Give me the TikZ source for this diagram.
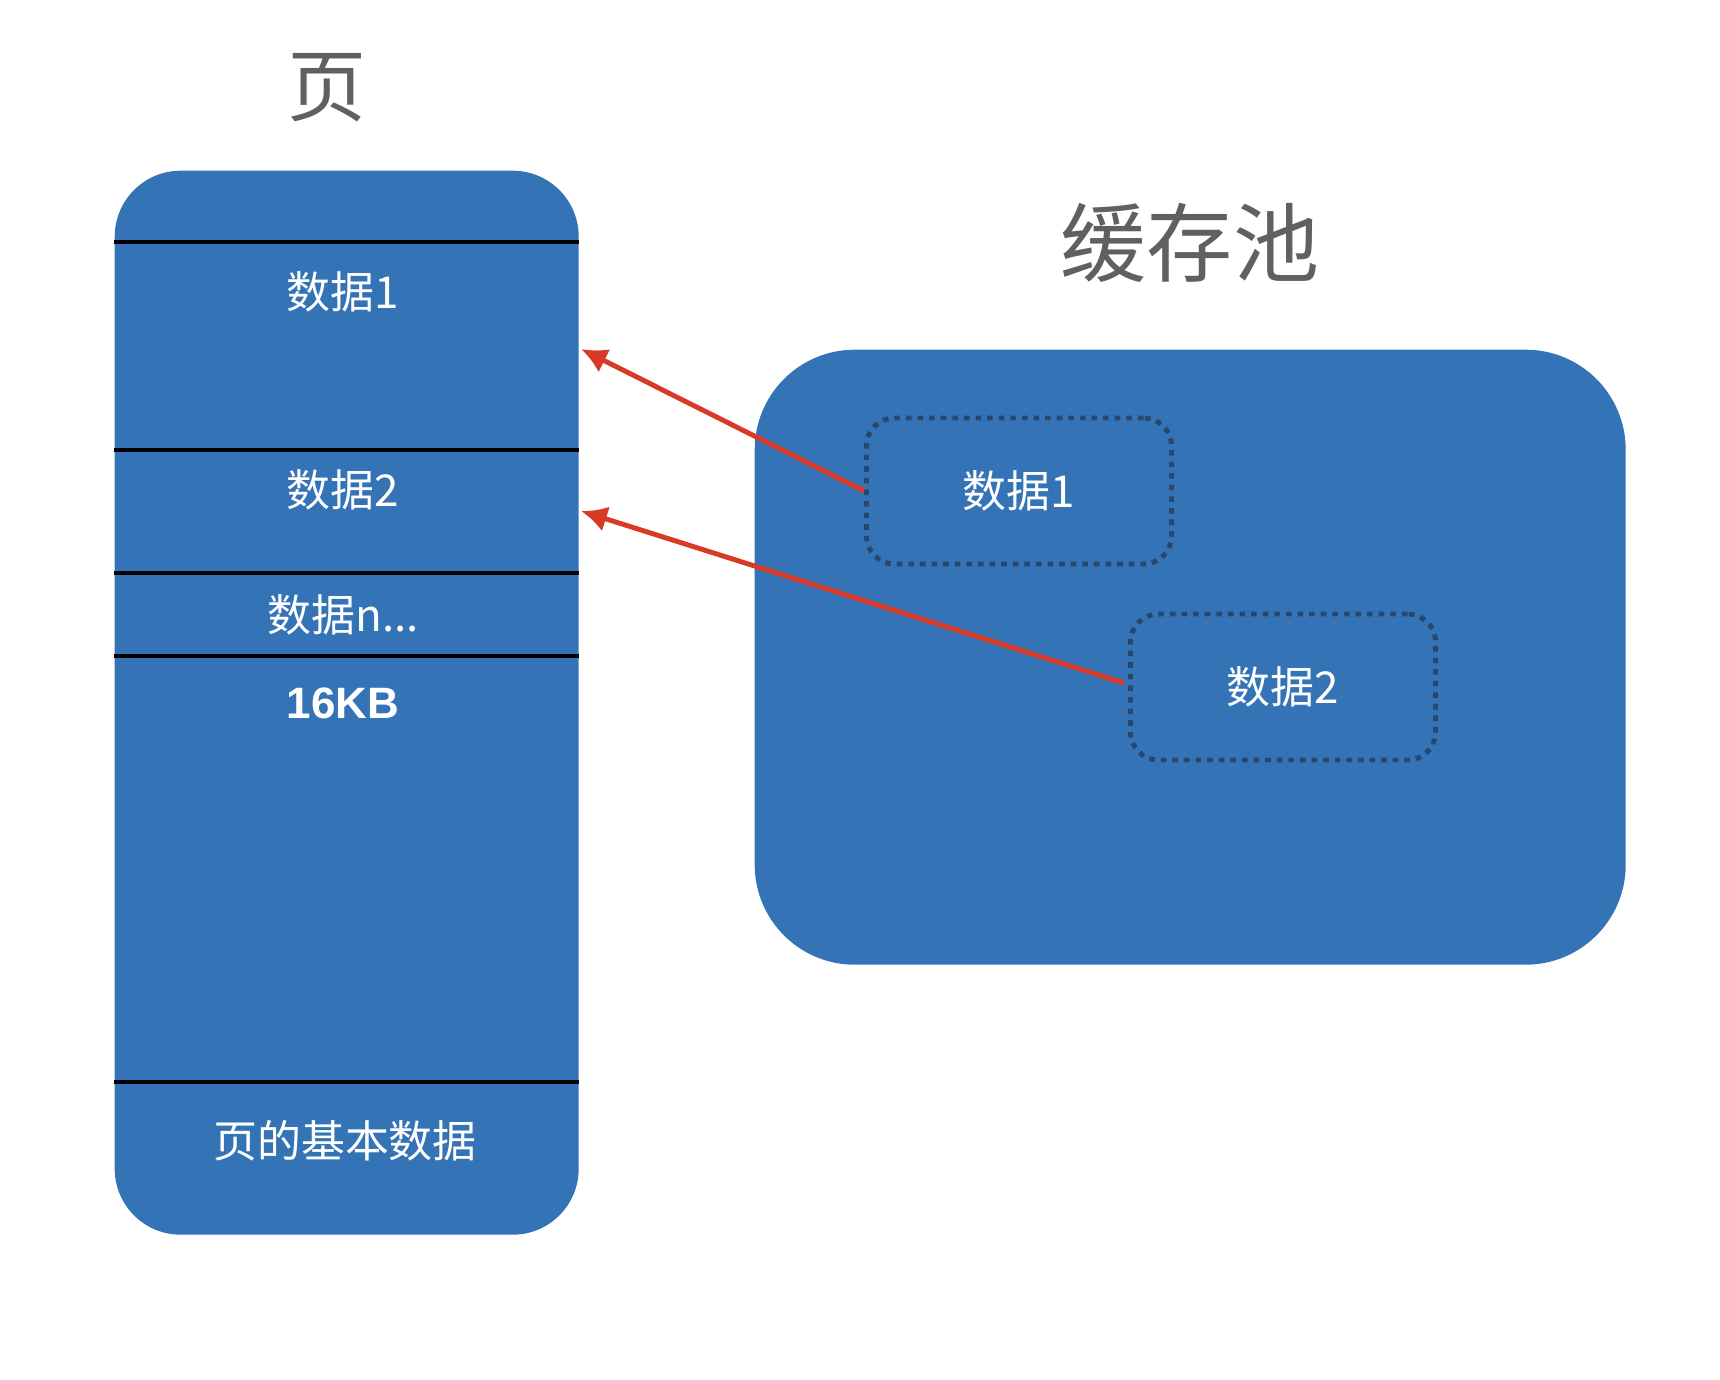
\documentclass[tikz,border=0pt]{standalone}
\usepackage{fontspec}
\setmainfont{Noto Sans CJK SC}
\newfontfamily\headfont{Liberation Sans}
\usetikzlibrary{positioning}
\usetikzlibrary{arrows.meta}
\definecolor{boxblue}{HTML}{3474B6}
\definecolor{arrowred}{HTML}{D93A26}
\definecolor{dotnavy}{HTML}{264870}
\definecolor{titlegray}{HTML}{606060}
\tikzset{>={Latex[length=2.6mm,width=2.6mm]}}
\tikzstyle{block}=[fill=boxblue,draw=none,inner sep=0pt]
\tikzstyle{sep}=[line width=0.9pt,black]
\tikzstyle{field}=[text=white,font=\fontsize{12.5}{15}\selectfont]
\tikzstyle{title}=[text=titlegray]
\tikzstyle{slot}=[draw=dotnavy,line width=1.4pt,dash pattern=on 1.6pt off 1.7pt,rounded corners=0.28cm,minimum width=3.05cm,minimum height=1.46cm,text=white,font=\fontsize{12.5}{15}\selectfont]
\tikzstyle{load}=[->,arrowred,line width=1.4pt]

\begin{document}
\begin{tikzpicture}

  \useasboundingbox (0,0) rectangle (17.2,-13.8);

  % page
  \node[block,rounded corners=0.66cm,minimum width=4.64cm,minimum height=10.64cm,anchor=north west]
    (page) at (1.14,-1.70) {};
  \node[title,font=\fontsize{22.5}{26}\selectfont] (pagetitle) at (3.27,-0.88) {页};

  % page rows
  \foreach \y in {2.42,4.50,5.73,6.56,10.82} {
    \draw[sep] (page.west |- 0,-\y) -- (page.east |- 0,-\y);
  }
  \node[field] (row1) at (3.43,-2.92) {数据1};
  \node[field] (row2) at (3.43,-4.90) {数据2};
  \node[field] (rown) at (3.43,-6.15) {数据n...};
  \node[field,font=\fontsize{12.5}{15}\headfont\bfseries] (size) at (3.43,-7.03) {16KB};
  \node[field] (base) at (3.45,-11.41) {页的基本数据};

  % buffer pool
  \node[block,rounded corners=1.0cm,minimum width=8.71cm,minimum height=6.15cm,anchor=north west]
    (pool) at (7.54,-3.49) {};
  \node[title,font=\fontsize{24.5}{28}\selectfont] (pooltitle) at (11.90,-2.43) {缓存池};

  \node[slot] (slot1) at (10.19,-4.91) {数据1};
  \node[slot] (slot2) at (12.83,-6.87) {数据2};

  % loads
  \coordinate (in1) at (5.81,-3.49);
  \coordinate (in2) at (5.81,-5.11);
  \draw[load] (slot1.west) -- (in1);
  \draw[load] ([xshift=-0.04cm,yshift=0.04cm]slot2.west) -- (in2);

\end{tikzpicture}
\end{document}
